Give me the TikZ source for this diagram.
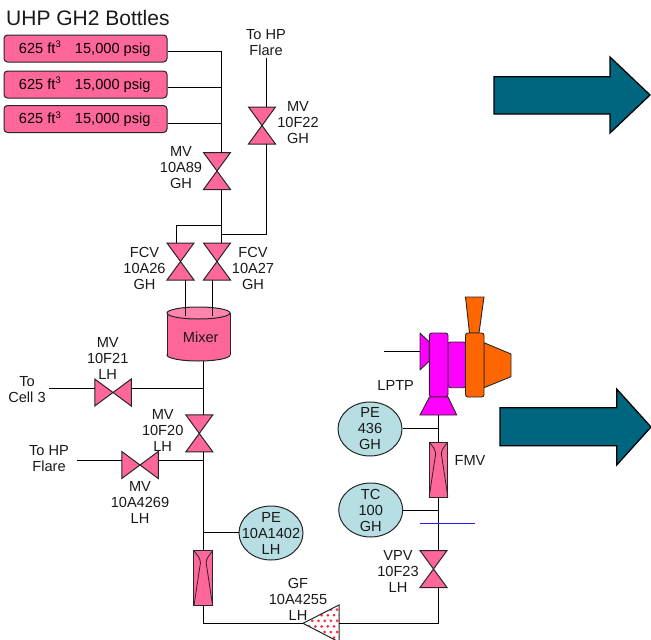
\documentclass[tikz,border=0pt]{standalone}
\usepackage{fontspec}
\setmainfont{Liberation Sans}
\usetikzlibrary{shapes.geometric}
\definecolor{vpink}{HTML}{FF6699}
\definecolor{vlight}{HTML}{FF85AD}
\definecolor{pale}{HTML}{B7DEE3}
\definecolor{teal}{HTML}{006680}
\definecolor{magn}{HTML}{FF00FF}
\definecolor{orng}{HTML}{FF6600}
\definecolor{dotred}{HTML}{FF2A3C}
\definecolor{wireblue}{RGB}{30,30,255}
\tikzset{
  pipe/.style={draw=black,line width=0.85pt},
  wire/.style={color=wireblue,line width=1.3pt},
  lbl/.style={font=\fontsize{14.6}{16}\selectfont,align=center,inner sep=0pt,text=black!90},
  part/.style={draw=black!85,line width=1pt,fill=vpink,line join=miter},
  bottle/.style={draw=black!85,line width=1pt,fill=vpink,rounded corners=3.5pt,minimum width=163pt,minimum height=27pt,inner sep=0pt,font=\fontsize{14.6}{16}\selectfont},
  gauge/.style={ellipse,draw=black!85,line width=1pt,fill=pale,minimum width=64pt,minimum height=54pt,inner sep=0pt},
  vbox/.style={minimum width=27pt,minimum height=37pt,inner sep=0pt,outer sep=0pt},
  hbox/.style={minimum width=36.5pt,minimum height=27pt,inner sep=0pt,outer sep=0pt},
  fbox/.style={minimum width=18.7pt,minimum height=55pt,inner sep=0pt,outer sep=0pt},
  bigarrow/.style={draw=black,line width=1.3pt,fill=teal,line join=miter},
  mag/.style={draw=black!85,line width=0.9pt,fill=magn},
  org/.style={draw=black!85,line width=0.9pt,fill=orng}
}
\newcommand{\valveV}[3]{%
  \node[vbox] (#1) at (#2,#3) {};
  \path[part] (#1.north west) -- (#1.north east) -- (#1.south west) -- (#1.south east) -- cycle;}
\newcommand{\valveH}[3]{%
  \node[hbox] (#1) at (#2,#3) {};
  \path[part] (#1.north west) -- (#1.south east) -- (#1.north east) -- (#1.south west) -- cycle;}
\newcommand{\flowmeter}[3]{%
  \node[fbox] (#1) at (#2,#3) {};
  \path[part] (#1.north west) rectangle (#1.south east);
  \draw[draw=black!85,line width=0.8pt] (#1.north west) .. controls ([xshift=4pt,yshift=-5pt]#1.north west) and ([xshift=6.5pt,yshift=-8pt]#1.north west) .. ([xshift=6.5pt,yshift=-12pt]#1.north west) -- (#1.south west);
  \draw[draw=black!85,line width=0.8pt] (#1.north east) .. controls ([xshift=-4pt,yshift=-5pt]#1.north east) and ([xshift=-6.5pt,yshift=-8pt]#1.north east) .. ([xshift=-6.5pt,yshift=-12pt]#1.north east) -- (#1.south east);}
\newcommand{\bottletext}{\makebox[163pt][l]{\hspace*{15pt}\raisebox{-1.4pt}{\makebox[56pt][l]{625 ft\raisebox{5.5pt}{\fontsize{9.5}{10}\selectfont 3}}15,000 psig}}}
\begin{document}
\begin{tikzpicture}[x=1pt,y=-1pt]
\useasboundingbox (0,0) rectangle (651,640);
% big arrows
\path[bigarrow] (494,76.7) -- (610,76.7) -- (610,57) -- (650,95) -- (610,133) -- (610,114) -- (494,114) -- cycle;
\path[bigarrow] (500,407.7) -- (616.7,407.7) -- (616.7,389) -- (651,427) -- (616.7,465) -- (616.7,445.7) -- (500,445.7) -- cycle;
% title
\node[anchor=west,inner sep=0pt,font=\fontsize{21}{24}\selectfont,text=black!90] (title) at (6,18) {UHP GH2 Bottles};
% bottles
\node[bottle] (b1) at (85.5,48.5) {\bottletext};
\node[bottle] (b2) at (85.5,84.5) {\bottletext};
\node[bottle] (b3) at (85.5,119) {\bottletext};
% valves
\valveV{v22}{262}{125.5}
\valveV{v89}{217}{171}
\valveV{fcvL}{180.5}{261.5}
\valveV{fcvR}{217}{261.5}
\valveV{v20}{199.3}{433.4}
\valveV{vpv}{433.5}{569}
\valveH{v21}{113}{392.5}
\valveH{v69}{140}{465}
% coordinates of the pipe run
\coordinate (j1) at (221.5,51);
\coordinate (j2) at (221.5,87);
\coordinate (j3) at (221.5,123.5);
\coordinate (j4) at (221.5,225);
\coordinate (j5) at (221.5,234);
\coordinate (fl) at (266.7,58);
\coordinate (mL) at (185,316);
\coordinate (mR) at (212,316);
\coordinate (mo) at (203.5,361);
\coordinate (j6) at (203.5,388);
\coordinate (j7) at (203.5,460);
\coordinate (j8) at (203.5,532.7);
\coordinate (c1) at (49,388);
\coordinate (c2) at (76.7,460);
\coordinate (br) at (438,623.3);
\coordinate (bl) at (203.5,623.3);
\coordinate (j9) at (438,510.7);
\coordinate (j10) at (438,428);
\coordinate (lp) at (384,351.7);
\coordinate (wa) at (420,523.7);
\coordinate (wb) at (475,523.7);
% mixer
\node[minimum width=63pt,minimum height=54pt,inner sep=0pt] (mixer) at (198.5,334) {};
\draw[part] (198.5,355) ellipse [x radius=31.5pt,y radius=6pt];
\path[fill=vpink] (167,313) rectangle (230,355);
\draw[draw=black!85,line width=1pt] (167,313) -- (167,355) (230,313) -- (230,355);
\draw[part,fill=vlight] (198.5,313) ellipse [x radius=31.5pt,y radius=6pt];
\node[lbl] (mixt) at (200.7,337) {Mixer};
% flow meters
\flowmeter{fm1}{203.3}{578.3}
\flowmeter{fmv}{438.5}{469.5}
% filter
\begin{scope}
\path[clip] (303,623.3) -- (339,605) -- (339,642) -- cycle;
\fill[white] (300,600) rectangle (342,645);
\foreach \r in {0,...,7}{
  \foreach \c in {0,...,6}{
    \fill[dotred] ({303+6.2*\c+(mod(\r,2))*3.1},{604+5.6*\r}) circle [radius=1.5pt];
  }
}
\end{scope}
\node[inner sep=0pt,minimum size=0pt] (gf) at (321,623.3) {};
\draw[draw=black!85,line width=1pt,line join=miter] (303,623.3) -- (339,605) -- (339,642) -- cycle;
\coordinate (gft) at (303,623.3);
\coordinate (gfb) at (339,623.3);
% gauges
\node[gauge] (pe1) at (271,533) {};
\node[gauge] (tc) at (370.7,510) {};
\node[gauge] (pe2) at (370,429) {};
% LPTP
\path[mag,line join=round] (420,333) -- (429.3,342) -- (429.3,361) -- (420,370) -- cycle;
\path[mag,rounded corners=2.5pt] (448,342) rectangle (466,387.7);
\path[org,line join=round] (484,342.7) -- (511,354) -- (511,376.7) -- (484,387.7) -- cycle;
\path[org,line join=miter] (465.5,297) -- (484,297) -- (479,333) -- (469.5,333) -- cycle;
\path[org,rounded corners=2.5pt] (465.5,333) rectangle (484,397);
\path[mag,rounded corners=2.5pt] (429.3,333) rectangle (448,397);
\path[mag,line join=miter] (429.5,397) -- (448,397) -- (456.7,415) -- (420,415) -- cycle;
\node[inner sep=0pt,minimum width=36pt,minimum height=1pt] (lptpb) at (438,415) {};
\node[inner sep=0pt,minimum size=0pt] (lptpi) at (420,351.7) {};
% pipes
\draw[pipe] (b1.east |- j1) -- (j1);
\draw[pipe] (b2.east |- j2) -- (j2);
\draw[pipe] (b3.east |- j3) -- (j3);
\draw[pipe] (j1) -- (v89.north -| j1);
\draw[pipe] (v89.south -| j1) -- (fcvR.north -| j1);
\draw[pipe] (fl) -- (v22.north -| fl);
\draw[pipe] (v22.south -| fl) |- (j5);
\draw[pipe] (j4) -| ([xshift=-4.5pt]fcvL.north);
\draw[pipe] ([xshift=4.5pt]fcvL.south) -- (mL);
\draw[pipe] ([xshift=-5pt]fcvR.south) -- (mR);
\draw[pipe] (mo) -- (v20.north -| mo);
\draw[pipe] (c1) -- (v21.west |- c1);
\draw[pipe] (v21.east |- j6) -- (j6);
\draw[pipe] (v20.south -| j7) -- (fm1.north -| j7);
\draw[pipe] (c2) -- (v69.west |- c2);
\draw[pipe] (v69.east |- j7) -- (j7);
\draw[pipe] (pe1.west |- j8) -- (j8);
\draw[pipe] (fm1.south -| bl) -- (bl) -- (gft);
\draw[pipe] (gfb) -- (br) -- (vpv.south -| br);
\draw[pipe] (vpv.north -| br) -- (fmv.south -| br);
\draw[pipe] (tc.east |- j9) -- (j9);
\draw[pipe] (pe2.east |- j10) -- (j10);
\draw[pipe] (fmv.north -| j10) -- (lptpb.center -| j10);
\draw[pipe] (lp) -- (lptpi);
\draw[wire] (wa) -- (wb);
% labels
\node[lbl] (t1) at (266,42.5) {To HP\\Flare};
\node[lbl] (t2) at (298,123) {MV\\10F22\\GH};
\node[lbl] (t3) at (181,168) {MV\\10A89\\GH};
\node[lbl] (t4) at (144.5,268) {FCV\\10A26\\GH};
\node[lbl] (t5) at (253,268) {FCV\\10A27\\GH};
\node[lbl] (t6) at (107.7,358) {MV\\10F21\\LH};
\node[lbl] (t7) at (27,390) {To\\Cell 3};
\node[lbl] (t8) at (162.7,430.7) {MV\\10F20\\LH};
\node[lbl] (t9) at (49,459) {To HP\\Flare};
\node[lbl] (t10) at (140,502.7) {MV\\10A4269\\LH};
\node[lbl] (t11) at (271,533) {PE\\10A1402\\LH};
\node[lbl] (t12) at (370.7,510) {TC\\100\\GH};
\node[lbl] (t13) at (370,429) {PE\\436\\GH};
\node[lbl] (t14) at (395.7,385) {LPTP};
\node[lbl] (t15) at (470,460) {FMV};
\node[lbl] (t16) at (398,571.7) {VPV\\10F23\\LH};
\node[lbl] (t17) at (298,599) {GF\\10A4255\\LH};
\end{tikzpicture}
\end{document}
